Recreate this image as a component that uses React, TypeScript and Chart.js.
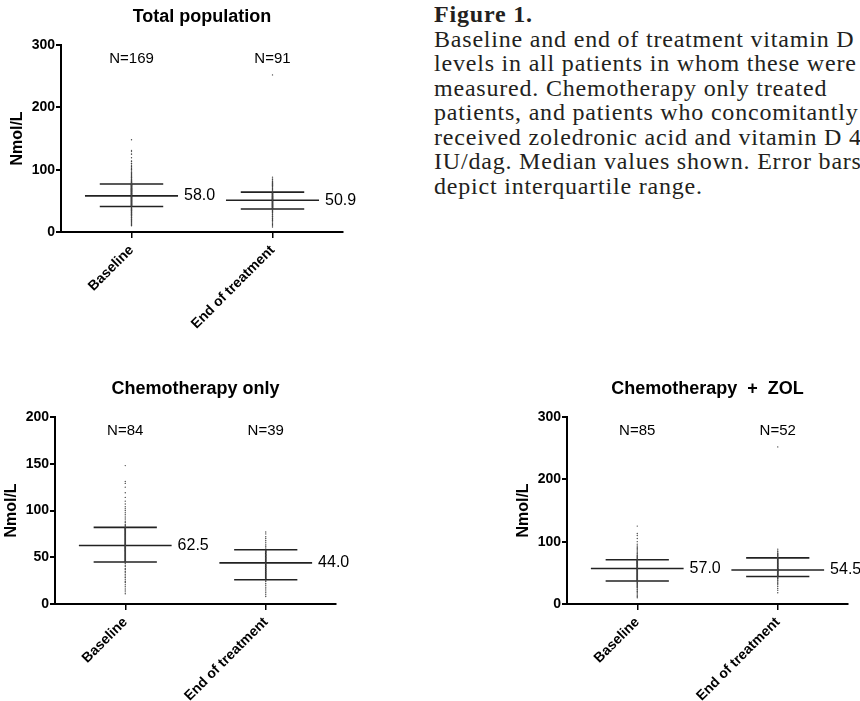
import React, { useEffect, useRef } from "react";
import { Chart, registerables } from "chart.js";

Chart.register(...registerables);

// ---------- data ----------
const categories = ["Baseline", "End of treatment"];

const chemoBaseline = [
  11, 13, 15, 17, 19, 21, 23, 24, 26, 28, 29, 31, 32, 34, 35, 37, 38, 40, 41, 43, 44,
  45, 46, 47, 48, 49, 50, 51, 52, 53, 54, 55, 56, 57, 57, 58, 59, 60, 60, 61, 62, 62,
  63, 64, 65, 66, 67, 68, 69, 70, 71, 72, 73, 74, 75, 76, 77, 78, 79, 80, 80, 81, 82,
  83, 84, 85, 87, 88, 90, 92, 94, 96, 98, 100, 102, 104, 107, 110, 114, 119, 125, 129, 131, 148,
];
const chemoEnd = [
  8, 10, 12, 14, 16, 18, 20, 22, 24, 25,
  27, 29, 31, 33, 35, 37, 39, 41, 43, 44,
  46, 47, 49, 50, 52, 53, 55, 56, 57,
  59, 61, 62, 64, 66, 68, 70, 72, 75, 77,
];
const zolBaseline = [
  10, 12, 14, 16, 18, 20, 21, 23, 24, 26, 27, 28, 29, 30, 31, 32, 33, 34, 35, 36, 36,
  37, 38, 39, 40, 41, 42, 43, 44, 45, 46, 47, 48, 49, 50, 51, 52, 53, 54, 55, 56, 56, 57,
  58, 58, 59, 60, 61, 62, 62, 63, 64, 65, 65, 66, 67, 67, 68, 68, 69, 69, 70, 70, 71,
  72, 73, 74, 75, 76, 77, 78, 80, 81, 83, 85, 87, 89, 91, 93, 96, 100, 105, 110, 113, 125,
];
const zolEnd = [
  18, 22, 25, 28, 31, 33, 35, 37, 38, 40, 41, 42, 43,
  44, 45, 46, 47, 48, 49, 50, 51, 52, 52, 53, 54, 54,
  55, 56, 57, 58, 60, 61, 63, 65, 66, 68, 70, 72, 73,
  74, 75, 76, 77, 78, 79, 80, 81, 82, 84, 85, 88, 252,
];
const totalBaseline = [...chemoBaseline, ...zolBaseline];
const totalEnd = [...chemoEnd, ...zolEnd];

const totalN = [169, 91];
const totalMedian = [58.0, 50.9];
const totalQ1 = [41, 37];
const totalQ3 = [77, 64];

const chemoN = [84, 39];
const chemoMedian = [62.5, 44.0];
const chemoQ1 = [45, 26];
const chemoQ3 = [82, 58];

const zolN = [85, 52];
const zolMedian = [57.0, 54.5];
const zolQ1 = [37, 44];
const zolQ3 = [71, 74];

const totalTicks = [0, 100, 200, 300];
const chemoTicks = [0, 50, 100, 150, 200];
const zolTicks = [0, 100, 200, 300];

// ---------- chart panel ----------
const SANS = '"Liberation Sans", Arial, Helvetica, sans-serif';
const MED_HALF = 0.66;
const IQR_HALF = 0.45;
const LINE_COLOR = "#222";

type PanelProps = {
  title: string;
  groups: number[][];
  n: number[];
  median: number[];
  q1: number[];
  q3: number[];
  yTicks: number[];
  box: { left: number; top: number; width: number; height: number };
  area: { left: number; top: number; right: number; bottom: number };
};

function Panel(p: PanelProps) {
  const ref = useRef<HTMLCanvasElement>(null);

  useEffect(() => {
    if (!ref.current) return;
    const catX = (i: number) => i * 2 + 1;

    const datasets: any[] = [];
    p.groups.forEach((vals, i) => {
      datasets.push({
        data: vals.map((v) => ({ x: catX(i), y: v })),
        pointRadius: 0.7,
        pointBackgroundColor: "#444",
        pointBorderWidth: 0,
        showLine: false,
      });
    });
    const seg = (x1: number, y1: number, x2: number, y2: number) => ({
      data: [
        { x: x1, y: y1 },
        { x: x2, y: y2 },
      ],
      showLine: true,
      borderColor: LINE_COLOR,
      borderWidth: 1.6,
      pointRadius: 0,
      fill: false,
    });
    p.median.forEach((m, i) => {
      const c = catX(i);
      datasets.push(seg(c - MED_HALF, m, c + MED_HALF, m));
      datasets.push(seg(c - IQR_HALF, p.q1[i], c + IQR_HALF, p.q1[i]));
      datasets.push(seg(c - IQR_HALF, p.q3[i], c + IQR_HALF, p.q3[i]));
      datasets.push(seg(c, p.q1[i], c, p.q3[i]));
    });

    const annot = {
      id: "annot",
      afterDatasetsDraw(chart: any) {
        const { ctx, chartArea: a, scales } = chart;
        const x = scales.x;
        const y = scales.y;
        ctx.save();
        ctx.fillStyle = "#000";
        ctx.textBaseline = "middle";
        ctx.textAlign = "center";
        ctx.font = `bold 18px ${SANS}`;
        ctx.fillText(p.title, (a.left + a.right) / 2, a.top - 28);
        ctx.font = `15px ${SANS}`;
        p.n.forEach((n, i) => {
          ctx.fillText("N=" + n, x.getPixelForValue(catX(i)), a.top + 14);
        });
        ctx.textAlign = "left";
        ctx.font = `16px ${SANS}`;
        p.median.forEach((m, i) => {
          ctx.fillText(
            m.toFixed(1),
            x.getPixelForValue(catX(i) + MED_HALF) + 6,
            y.getPixelForValue(m)
          );
        });
        ctx.translate(a.left - 43, (a.top + a.bottom) / 2);
        ctx.rotate(-Math.PI / 2);
        ctx.textAlign = "center";
        ctx.font = `bold 16px ${SANS}`;
        ctx.fillText("Nmol/L", 0, 0);
        ctx.restore();
      },
    };

    const yMax = p.yTicks[p.yTicks.length - 1];
    const chart = new Chart(ref.current, {
      type: "scatter",
      data: { datasets },
      plugins: [annot],
      options: {
        responsive: false,
        maintainAspectRatio: false,
        animation: false,
        layout: {
          padding: {
            left: 0,
            top: p.area.top,
            right: p.box.width - p.area.right,
            bottom: 0,
          },
        },
        plugins: {
          legend: { display: false },
          tooltip: { enabled: false },
        },
        scales: {
          x: {
            type: "linear",
            min: 0,
            max: 4,
            afterFit: (s: any) => {
              s.height = p.box.height - p.area.bottom;
            },
            afterBuildTicks: (s: any) => {
              s.ticks = categories.map((_, i) => ({ value: catX(i) }));
            },
            ticks: {
              autoSkip: false,
              minRotation: 45,
              maxRotation: 45,
              padding: 4,
              color: "#000",
              font: { family: SANS, size: 14, weight: "bold" },
              callback: (v: any) => categories[(Number(v) - 1) / 2] ?? "",
            },
            grid: {
              display: true,
              drawOnChartArea: false,
              drawTicks: true,
              tickLength: 6,
              color: "#000",
              lineWidth: 1.5,
            },
            border: { display: true, color: "#000", width: 2 },
          },
          y: {
            type: "linear",
            min: 0,
            max: yMax,
            afterFit: (s: any) => {
              s.width = p.area.left;
            },
            afterBuildTicks: (s: any) => {
              s.ticks = p.yTicks.map((v) => ({ value: v }));
            },
            ticks: {
              padding: 1,
              color: "#000",
              font: { family: SANS, size: 14, weight: "bold" },
            },
            grid: {
              display: true,
              drawOnChartArea: false,
              drawTicks: true,
              tickLength: 5,
              color: "#000",
              lineWidth: 2,
            },
            border: { display: true, color: "#000", width: 2 },
          },
        },
      } as any,
    });
    return () => chart.destroy();
  }, []);

  return (
    <canvas
      ref={ref}
      width={p.box.width}
      height={p.box.height}
      style={{
        position: "absolute",
        left: p.box.left,
        top: p.box.top,
        width: p.box.width,
        height: p.box.height,
      }}
    />
  );
}

const captionLines = [
  "Baseline and end of treatment vitamin D",
  "levels in all patients in whom these were",
  "measured. Chemotherapy only treated",
  "patients, and patients who concomitantly",
  "received zoledronic acid and vitamin D 400",
  "IU/dag. Median values shown. Error bars",
  "depict interquartile range.",
];

export default function App() {
  return (
    <div
      style={{
        position: "fixed",
        left: 0,
        top: 0,
        width: 860,
        height: 701,
        overflow: "hidden",
        background: "#fff",
      }}
    >
      <Panel
        title="Total population"
        groups={[totalBaseline, totalEnd]}
        n={totalN}
        median={totalMedian}
        q1={totalQ1}
        q3={totalQ3}
        yTicks={totalTicks}
        box={{ left: 0, top: 0, width: 380, height: 330 }}
        area={{ left: 61, top: 45, right: 343, bottom: 232 }}
      />
      <Panel
        title="Chemotherapy only"
        groups={[chemoBaseline, chemoEnd]}
        n={chemoN}
        median={chemoMedian}
        q1={chemoQ1}
        q3={chemoQ3}
        yTicks={chemoTicks}
        box={{ left: 0, top: 360, width: 400, height: 341 }}
        area={{ left: 55, top: 57, right: 336, bottom: 244 }}
      />
      <Panel
        title="Chemotherapy  +  ZOL"
        groups={[zolBaseline, zolEnd]}
        n={zolN}
        median={zolMedian}
        q1={zolQ1}
        q3={zolQ3}
        yTicks={zolTicks}
        box={{ left: 480, top: 360, width: 380, height: 341 }}
        area={{ left: 87, top: 57, right: 368, bottom: 244 }}
      />
      <div
        style={{
          position: "absolute",
          left: 434,
          top: 2,
          fontFamily: '"Liberation Serif", "Times New Roman", serif',
          fontSize: 24,
          lineHeight: "24.5px",
          letterSpacing: "0.8px",
          color: "#231f20",
          whiteSpace: "nowrap",
        }}
      >
        <div style={{ fontWeight: "bold" }}>Figure 1.</div>
        {captionLines.map((l, i) => (
          <div key={i}>{l}</div>
        ))}
      </div>
    </div>
  );
}
